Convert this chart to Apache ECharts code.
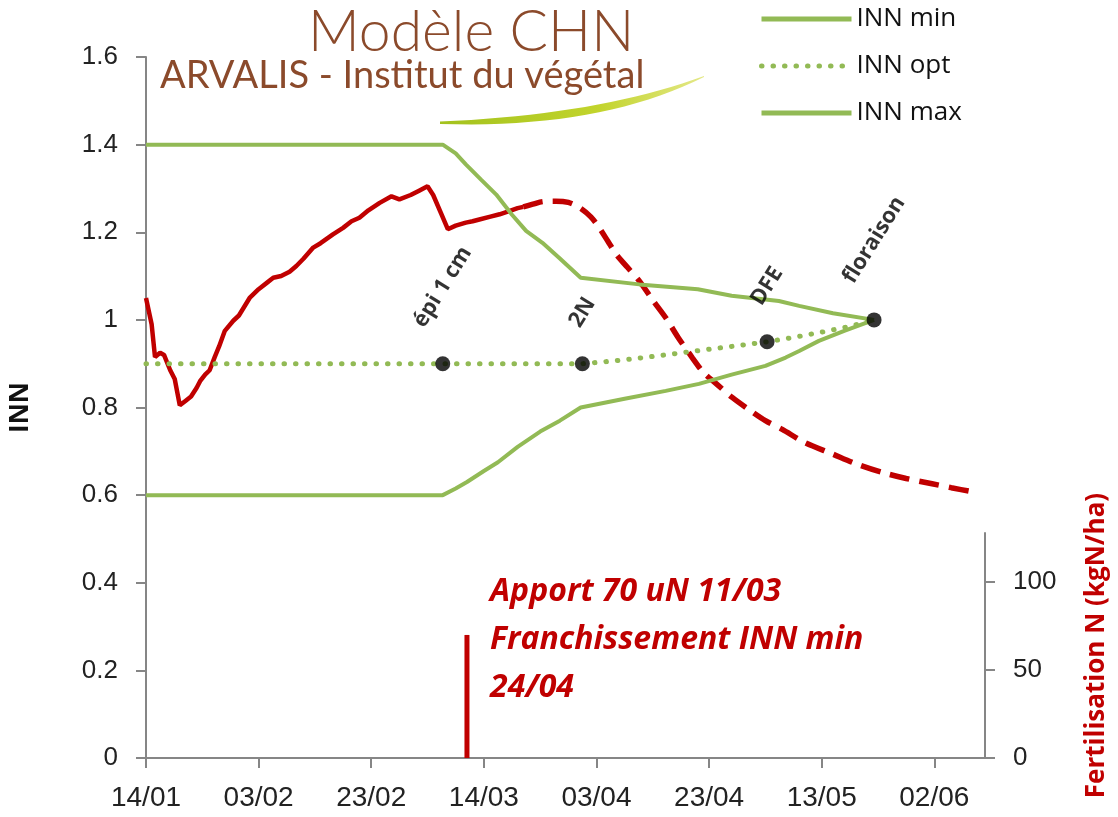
<!DOCTYPE html>
<html>
<head>
<meta charset="utf-8">
<script src="https://cdn.jsdelivr.net/npm/echarts@6/dist/echarts.min.js"></script>
<style>
  html, body { margin: 0; padding: 0; background: #fff; }
  #chart { width: 1118px; height: 817px; }
</style>
</head>
<body>
<div id="chart"></div>
<script>
// x = days after 14/01 (2012)
var tickDays = [0, 20, 40, 60, 80, 100, 120, 140];
var tickLabels = ['14/01', '03/02', '23/02', '14/03', '03/04', '23/04', '13/05', '02/06'];
var fertTicks = [0, 50, 100];

var innMin = [[0, 0.6], [52.7, 0.6], [55, 0.615], [57, 0.63], [60, 0.655], [62.5, 0.675], [66, 0.71],
  [70, 0.745], [73.5, 0.77], [77.2, 0.8], [85, 0.82], [92.3, 0.838], [98.2, 0.854], [104, 0.875],
  [110, 0.895], [113.6, 0.914], [116, 0.929], [119.5, 0.952], [124, 0.975], [129.3, 1.0]];
var innOpt = [[0, 0.9], [77.5, 0.9], [82, 0.905], [86.4, 0.911], [91, 0.918], [95.2, 0.925], [100, 0.933],
  [105, 0.941], [110.3, 0.95], [115, 0.96], [120, 0.972], [125, 0.985], [129.3, 1.0]];
var innMax = [[0, 1.4], [52.7, 1.4], [55, 1.38], [56.8, 1.355], [59.5, 1.32], [62.2, 1.286], [65, 1.24],
  [67.5, 1.203], [70.4, 1.176], [73.5, 1.14], [77.2, 1.096], [87.6, 1.081], [98, 1.07], [104, 1.055],
  [112.4, 1.043], [116, 1.032], [122, 1.015], [129.3, 1.0]];

var innObserved = [[0, 1.05], [1, 0.99], [1.6, 0.915], [2.5, 0.925], [3.2, 0.92], [4.3, 0.885], [5.1, 0.865],
  [6, 0.805], [7, 0.815], [8, 0.825], [9, 0.845], [9.6, 0.86], [10.5, 0.875], [11.3, 0.885], [12.2, 0.915],
  [13, 0.94], [14, 0.975], [15.5, 0.998], [16.5, 1.01], [18.4, 1.05], [20, 1.07], [21.5, 1.085], [22.6, 1.096],
  [24, 1.1], [25.5, 1.11], [26.7, 1.123], [28, 1.14], [29.7, 1.165], [31, 1.175], [33.2, 1.195], [35, 1.21],
  [36.5, 1.225], [37.9, 1.233], [39.5, 1.25], [41.5, 1.267], [43.6, 1.282], [45, 1.275], [47, 1.285],
  [48.5, 1.295], [50, 1.305], [51, 1.285], [52.5, 1.24], [53.6, 1.207], [55, 1.215], [56.8, 1.222],
  [58, 1.225], [59.2, 1.229], [61, 1.235], [62.8, 1.241], [64.5, 1.248], [66, 1.255], [67, 1.258]];
var innSimulated = [[67, 1.258], [68.7, 1.264], [70.5, 1.27], [72.8, 1.271], [75, 1.268], [77, 1.256],
  [79, 1.235], [80.5, 1.21], [82, 1.18], [83.5, 1.15], [85.5, 1.12], [87.6, 1.089], [90, 1.045],
  [92.3, 1.005], [94.5, 0.96], [97, 0.914], [99, 0.88], [101.2, 0.855], [104.1, 0.823], [107.1, 0.795],
  [110, 0.77], [113, 0.75], [117, 0.72], [121.9, 0.694], [126, 0.672], [130.7, 0.652], [135, 0.638],
  [139.6, 0.626], [143, 0.617], [147, 0.607]];

var stageNames = ['épi 1 cm', '2N', 'DFE', 'floraison'];
var stageDays = [52.7, 77.5, 110.3, 129.3];
var stageValues = [0.9, 0.9, 0.95, 1.0];

var fertDays = [57];
var fertAmounts = [70];

var green = '#92ba55';
var red = '#c00000';
var axisGrey = '#868686';
var stageFontSize = 22;
var stageAngle = 58;

var measureCtx = document.createElement('canvas').getContext('2d');
function stageDistance(text) {
  measureCtx.font = 'bold ' + stageFontSize + 'px "Open Sans"';
  var w = measureCtx.measureText(text).width;
  var a = stageAngle * Math.PI / 180;
  return 32 + (w * Math.sin(a) + stageFontSize * Math.cos(a)) / 2 - 7;
}

var stageData = stageNames.map(function (n, i) {
  return { name: n, value: [stageDays[i], stageValues[i]], label: { distance: stageDistance(n) } };
});
var fertData = fertDays.map(function (d, i) { return [d, fertAmounts[i]]; });

// logo swoosh
function quad(p0, c, p2, t) {
  var u = 1 - t;
  return [u * u * p0[0] + 2 * u * t * c[0] + t * t * p2[0], u * u * p0[1] + 2 * u * t * c[1] + t * t * p2[1]];
}
var swoosh = [];
for (var t = 0; t <= 1.0001; t += 0.05) swoosh.push(quad([440, 121.5], [598, 115], [704, 76], t));
for (var t2 = 0; t2 <= 1.0001; t2 += 0.05) swoosh.push(quad([704, 77], [600, 129], [440, 124], t2));

var chart = echarts.init(document.getElementById('chart'));
var option = {
  animation: false,
  backgroundColor: '#fff',
  grid: [
    { left: 146, right: 133, top: 57, bottom: 59 },
    { left: 146, right: 133, top: 533, bottom: 59 }
  ],
  legend: {
    data: ['INN min', 'INN opt', 'INN max'],
    orient: 'vertical',
    left: 754,
    top: 1,
    itemWidth: 90,
    itemHeight: 14,
    itemGap: 21,
    itemStyle: { opacity: 0 },
    lineStyle: { width: 5 },
    textStyle: { fontFamily: 'Open Sans', fontSize: 26, color: '#111' }
  },
  xAxis: [{
    type: 'value', gridIndex: 0, min: 0, max: 149, interval: 20,
    axisLine: { show: true, lineStyle: { color: axisGrey, width: 2 } },
    axisTick: { show: true, length: 10, customValues: tickDays, lineStyle: { color: axisGrey, width: 2 } },
    axisLabel: {
      customValues: tickDays, margin: 26, color: '#222',
      fontFamily: 'Liberation Sans', fontSize: 28,
      formatter: function (v) { return tickLabels[tickDays.indexOf(v)] || ''; }
    },
    splitLine: { show: false }
  }, {
    type: 'value', gridIndex: 1, min: 0, max: 149, show: false
  }],
  yAxis: [{
    type: 'value', gridIndex: 0, min: 0, max: 1.6, interval: 0.2,
    name: 'INN', nameLocation: 'middle', nameRotate: 90, nameGap: 112,
    nameTextStyle: { fontFamily: 'Open Sans', fontWeight: 'bold', fontSize: 26, color: '#111' },
    axisLine: { show: true, lineStyle: { color: axisGrey, width: 2 } },
    axisTick: { show: true, length: 10, lineStyle: { color: axisGrey, width: 2 } },
    axisLabel: { margin: 28, color: '#222', fontFamily: 'Liberation Sans', fontSize: 26 },
    splitLine: { show: false }
  }, {
    type: 'value', gridIndex: 1, position: 'right', min: 0, max: 128,
    name: 'Fertilisation N (kgN/ha)', nameLocation: 'middle', nameRotate: 90, nameGap: 99,
    nameTextStyle: { fontFamily: 'Open Sans', fontWeight: 'bold', fontSize: 26, color: red },
    axisLine: { show: true, onZero: false, lineStyle: { color: axisGrey, width: 2 } },
    axisTick: { show: true, length: 10, customValues: fertTicks, lineStyle: { color: axisGrey, width: 2 } },
    axisLabel: { customValues: fertTicks, margin: 28, color: '#222', fontFamily: 'Liberation Sans', fontSize: 26 },
    splitLine: { show: false }
  }],
  series: [
    { name: 'INN min', type: 'line', data: innMin, symbol: 'none', color: green,
      lineStyle: { color: green, width: 4 }, z: 3 },
    { name: 'INN opt', type: 'line', data: innOpt, symbol: 'none', color: green,
      lineStyle: { color: green, width: 5, type: [0.5, 11], cap: 'round' }, z: 3 },
    { name: 'INN max', type: 'line', data: innMax, symbol: 'none', color: green,
      lineStyle: { color: green, width: 4 }, z: 3 },
    { name: 'INN observé', type: 'line', data: innObserved, symbol: 'none', color: red,
      lineStyle: { color: red, width: 4.5 }, z: 2 },
    { name: 'INN simulé', type: 'line', data: innSimulated, symbol: 'none', color: red, smooth: 0.3,
      lineStyle: { color: red, width: 5.5, type: [20, 10] }, z: 2 },
    { name: 'Stades', type: 'scatter', data: stageData, symbolSize: 15, z: 5,
      itemStyle: { color: '#000' },
      label: {
        show: true, position: 'top', rotate: stageAngle, align: 'center', verticalAlign: 'middle',
        formatter: '{b}', color: '#000', fontFamily: 'Open Sans', fontWeight: 'bold', fontSize: stageFontSize
      } },
    { name: 'Fertilisation N', type: 'bar', xAxisIndex: 1, yAxisIndex: 1, data: fertData,
      barWidth: 5, itemStyle: { color: red } }
  ],
  graphic: [
    { type: 'text', left: 308, top: 4, z: 10,
      style: { text: 'Modèle CHN', font: '300 57px Lato', fill: '#8b4a2b' } },
    { type: 'text', left: 160, top: 57, z: 10,
      style: { text: 'ARVALIS - Institut du végétal', font: '38px Lato', fill: '#8b4a2b' } },
    { type: 'polygon', z: 9, shape: { points: swoosh },
      style: { fill: new echarts.graphic.LinearGradient(0, 0, 1, 0, [
        { offset: 0, color: '#a3c21e' }, { offset: 0.6, color: '#c2d42c' }, { offset: 1, color: '#e4e888' }]) } },
    { type: 'text', left: 490, top: 568, z: 10,
      style: { text: 'Apport 70 uN 11/03\nFranchissement INN min\n24/04',
        font: 'italic bold 32px "Open Sans"', fill: red, lineHeight: 48 } }
  ]
};
chart.setOption(option);
window.addEventListener('resize', function () { chart.resize(); });
</script>
</body>
</html>
